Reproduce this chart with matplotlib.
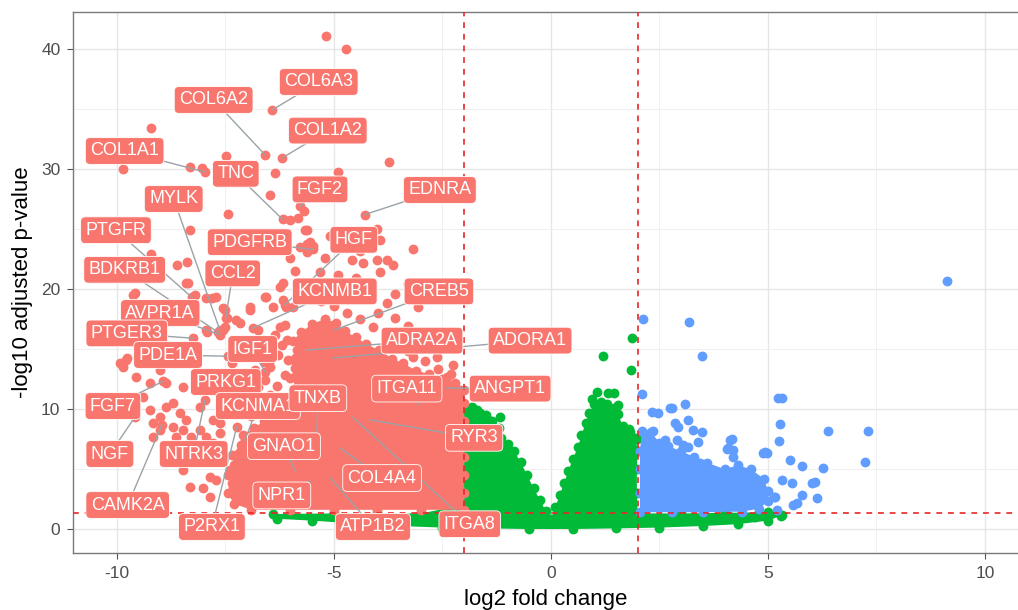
import numpy as np
import matplotlib
matplotlib.use("Agg")
import matplotlib.pyplot as plt

plt.rcParams['font.family'] = ['Liberation Sans', 'DejaVu Sans']
plt.rcParams['axes.unicode_minus'] = False

RED = "#F8766D"
GREEN = "#00BA38"
BLUE = "#619CFF"

fc_cut = 2.0
padj_cut = 1.3   # -log10(0.05)

# outline of the packed part of each cloud (log2FC, -log10 padj)
red_core = [(-2.0, 1.6), (-3.0, 1.6), (-4.0, 1.6), (-5.0, 1.6), (-6.0, 1.6), (-6.9, 1.6),
            (-7.3, 2.1), (-7.45, 3.0), (-7.35, 3.8), (-7.45, 4.5), (-7.3, 5.3), (-7.35, 6.2),
            (-7.15, 7.0), (-7.1, 7.8), (-6.85, 8.4), (-6.6, 9.0), (-6.3, 9.3), (-6.0, 9.6),
            (-5.85, 10.3), (-5.95, 11.0), (-5.85, 11.8), (-6.0, 12.6), (-5.9, 13.4), (-6.05, 14.1),
            (-5.85, 14.9), (-5.95, 15.7), (-5.75, 16.4), (-5.5, 17.1), (-5.2, 17.5), (-4.95, 17.2),
            (-4.75, 16.5), (-4.5, 16.0), (-4.25, 15.4), (-3.95, 14.9), (-3.65, 14.2), (-3.4, 13.8),
            (-3.1, 13.2), (-2.8, 12.9), (-2.5, 12.5), (-2.2, 12.2), (-2.0, 11.6), (-2.0, 10.5),
            (-2.0, 9.0), (-2.0, 7.5), (-2.0, 6.0), (-2.0, 4.5), (-2.0, 3.0)]
green_core = [(-6.4, 1.25), (-6.3, 0.85), (-5.5, 0.7), (-4.5, 0.45), (-3.5, 0.25), (-2.5, 0.12),
              (-1.5, 0.05), (-0.5, 0.0), (0.5, 0.0), (1.5, 0.05), (2.5, 0.12), (3.5, 0.25),
              (4.3, 0.4), (5.0, 0.7), (5.3, 1.1), (5.0, 1.4), (4.0, 1.35), (3.0, 1.3), (2.0, 1.3),
              (1.98, 3.0), (1.98, 5.0), (2.0, 6.5), (1.95, 7.6), (1.8, 8.3), (1.65, 8.6),
              (1.55, 9.6), (1.45, 10.1), (1.3, 10.4), (1.15, 10.6), (1.0, 10.4), (0.88, 9.7),
              (0.8, 8.8), (0.7, 7.8), (0.62, 6.8), (0.5, 5.8), (0.4, 4.8), (0.3, 3.8), (0.2, 2.8),
              (0.1, 1.8), (0.0, 0.8), (-0.12, 1.5), (-0.25, 2.4), (-0.4, 3.4), (-0.55, 4.5),
              (-0.7, 5.6), (-0.85, 6.5), (-1.0, 7.1), (-1.15, 7.6), (-1.2, 8.4), (-1.35, 9.0),
              (-1.5, 9.5), (-1.7, 9.9), (-1.85, 10.1), (-2.0, 10.0), (-2.0, 8.0), (-2.0, 6.0),
              (-2.0, 4.0), (-2.0, 2.0), (-3.0, 1.3), (-4.0, 1.3), (-5.0, 1.3)]
blue_core = [(2.05, 1.4), (2.05, 3.0), (2.05, 5.0), (2.05, 6.5), (2.1, 8.2), (2.3, 8.1),
             (2.5, 7.2), (2.7, 6.9), (3.0, 6.5), (3.3, 6.0), (3.6, 5.5), (4.0, 5.0), (4.3, 5.3),
             (4.6, 5.0), (4.9, 4.2), (5.0, 3.2), (5.0, 2.3), (4.8, 1.7), (4.4, 1.45), (3.5, 1.4),
             (2.8, 1.4)]

# individual genes outside the packed parts
red_pts = [(-5.18, 41.1), (-4.72, 40.0), (-9.22, 33.4), (-9.86, 30.0), (-7.49, 31.1), (-8.32, 30.2),
           (-8.04, 30.1), (-6.36, 29.7), (-6.47, 27.8), (-7.44, 26.25), (-3.73, 30.6), (-4.91, 29.75),
           (-6.01, 25.75), (-5.83, 25.9), (-5.69, 26.5), (-5.67, 24.9), (-3.18, 23.3), (-5.62, 23.75),
           (-5.48, 23.6), (-8.32, 24.9), (-9.22, 22.9), (-8.39, 22.25), (-8.62, 22.0), (-8.36, 20.5),
           (-8.2, 19.5), (-7.81, 19.25), (-9.63, 19.5), (-7.56, 18.4), (-6.94, 18.5), (-7.47, 17.6),
           (-7.93, 16.4), (-7.51, 16.8), (-6.59, 19.3), (-6.24, 20.2), (-6.41, 18.5), (-6.18, 19.1),
           (-5.94, 18.5), (-9.93, 13.8), (-9.77, 14.25), (-6.24, 16.8), (-6.08, 15.75), (-6.47, 13.5),
           (-7.17, 17.2), (-5.62, 24.9), (-5.55, 23.9), (-5.78, 23.5), (-5.62, 23.1), (-3.94, 24.1),
           (-4.59, 22.4), (-4.33, 22.2), (-4.01, 22.4), (-3.78, 22.4), (-3.64, 22.0), (-3.94, 21.4),
           (-5.32, 21.4), (-6.18, 20.5), (-3.78, 18.8), (-3.99, 18.0), (-3.59, 17.6), (-3.06, 18.5),
           (-2.26, 13.7), (-2.63, 14.3), (-3.18, 14.3), (-5.3, 19.0), (-5.0, 18.6), (-4.7, 18.0),
           (-4.4, 17.5), (-4.1, 16.8), (-3.8, 16.0), (-3.5, 15.2), (-3.3, 14.8), (-2.9, 14.0),
           (-2.6, 13.3), (-2.3, 12.9), (-4.2, 19.4), (-4.6, 19.6), (-5.6, 20.3), (-5.9, 21.5),
           (-6.0, 22.6), (-5.2, 22.6), (-4.9, 21.2), (-4.5, 20.9), (-3.6, 19.6), (-3.3, 16.9),
           (-2.8, 15.7), (-4.4, 23.2), (-5.1, 24.4), (-4.0, 25.0), (-3.3, 20.4), (-9.59, 19.7),
           (-8.41, 20.5), (-7.95, 19.25), (-7.72, 19.3), (-7.51, 18.25), (-7.56, 16.6), (-7.95, 16.6),
           (-7.26, 17.4), (-6.94, 18.25), (-6.57, 19.3), (-6.11, 18.5), (-9.79, 14.1), (-9.86, 13.5),
           (-9.56, 12.7), (-9.24, 12.2), (-9.01, 13.25), (-8.87, 12.2), (-8.48, 11.8), (-9.4, 11.0),
           (-9.24, 9.9), (-9.01, 9.3), (-9.17, 8.8), (-8.87, 10.2), (-8.71, 10.5), (-8.55, 9.7),
           (-8.41, 9.1), (-8.09, 10.2), (-7.79, 9.1), (-7.63, 8.8), (-8.09, 8.25), (-7.95, 7.7),
           (-7.79, 7.2), (-7.63, 8.0), (-9.01, 8.25), (-9.17, 7.7), (-8.71, 8.5), (-8.64, 7.7),
           (-8.48, 8.25), (-8.29, 7.7), (-8.48, 4.9), (-8.32, 3.5), (-8.02, 3.4), (-7.86, 4.3),
           (-7.72, 4.1), (-7.86, 2.7), (-7.56, 6.0), (-7.4, 4.9), (-7.33, 3.5), (-6.71, 6.3),
           (-6.8, 4.7), (-6.41, 4.9), (-7.17, 15.5), (-6.94, 14.5), (-6.82, 13.25), (-6.59, 12.4),
           (-6.47, 11.2), (-6.24, 10.6), (-7.17, 12.4), (-6.94, 11.2), (-6.71, 10.3), (-7.28, 10.75),
           (-7.05, 9.9), (-7.35, 13.8), (-6.66, 15.3), (-6.36, 16.2), (-6.13, 17.0), (-6.29, 14.5),
           (-6.13, 12.8), (-6.47, 14.1), (-6.75, 16.6), (-2.4, 12.7), (-2.1, 11.6),
           (-6.3, 11.9), (-6.55, 9.7), (-6.2, 15.3), (-6.6, 13.9), (-7.0, 12.9), (-6.9, 9.4),
           (-7.25, 11.8), (-6.35, 10.1), (-6.75, 11.8), (-7.2, 14.6)]
green_pts = [(1.87, 15.9), (1.2, 14.4), (1.84, 13.25), (1.32, 11.3), (1.45, 11.3), (0.95, 10.8),
             (1.55, 10.3), (1.6, 8.5), (1.82, 8.1), (1.98, 7.5), (-1.82, 10.2), (-1.63, 9.7),
             (-1.17, 9.3), (-1.4, 9.0), (1.05, 11.4), (4.7, 1.0), (4.8, 1.4), (5.32, 1.2)]
blue_pts = [(9.12, 20.7), (2.12, 17.5), (3.18, 17.25), (3.48, 14.4), (2.1, 11.25), (2.74, 10.1),
            (3.09, 10.4), (2.33, 9.75), (2.47, 9.7), (2.79, 10.1), (2.86, 8.8), (2.93, 8.5),
            (3.16, 9.1), (3.27, 8.25), (3.48, 8.1), (3.39, 7.25), (2.35, 8.2), (2.28, 7.4),
            (2.63, 7.4), (2.9, 7.4), (3.04, 7.0), (3.16, 6.8), (4.12, 7.4), (4.08, 6.75),
            (4.19, 6.6), (4.93, 6.4), (5.23, 10.9), (5.32, 10.9), (5.28, 8.75), (5.25, 7.3),
            (6.38, 8.2), (7.3, 8.2), (7.24, 5.6), (5.51, 5.75), (5.78, 5.25), (6.27, 5.1),
            (5.32, 4.1), (5.55, 3.8), (6.01, 3.8), (6.08, 3.9), (5.78, 2.8), (6.13, 2.6),
            (5.16, 2.7), (5.58, 2.0), (5.67, 2.2), (5.21, 1.6), (4.52, 3.5), (4.75, 3.8),
            (4.86, 3.25), (4.42, 2.7), (4.29, 4.7), (3.73, 4.9), (3.89, 4.1), (3.43, 5.5),
            (2.97, 5.75), (2.81, 5.2), (2.74, 4.3), (3.82, 3.25), (3.59, 2.7), (3.96, 2.4),
            (4.17, 7.5), (4.19, 6.0), (4.06, 6.7), (4.88, 6.3), (4.98, 6.3), (5.14, 2.7)]

# labelled genes: name, label position, gene position
genes = ["COL6A3", "COL6A2", "COL1A2", "COL1A1", "TNC", "FGF2", "EDNRA", "MYLK", "PTGFR",
         "PDGFRB", "HGF", "BDKRB1", "CCL2", "KCNMB1", "CREB5", "AVPR1A", "PTGER3", "ADRA2A",
         "ADORA1", "IGF1", "PDE1A", "PRKG1", "ITGA11", "ANGPT1", "FGF7", "KCNMA1", "TNXB",
         "RYR3", "NGF", "NTRK3", "GNAO1", "COL4A4", "NPR1", "CAMK2A", "P2RX1", "ATP1B2", "ITGA8"]
lab_x = [-5.35, -7.77, -5.14, -9.82, -7.26, -5.32, -2.56, -8.69, -10.02, -6.94, -4.54, -9.82,
         -7.33, -4.98, -2.58, -9.0, -9.77, -2.97, -0.48, -6.87, -8.82, -7.49, -3.32, -0.94,
         -10.09, -6.75, -5.37, -1.77, -10.16, -8.23, -6.15, -3.89, -6.2, -9.75, -7.81, -4.1, -1.87]
lab_y = [37.25, 35.75, 33.2, 31.5, 29.6, 28.3, 28.25, 27.5, 24.9, 23.9, 24.1, 21.6, 21.3, 19.8,
         19.8, 18.0, 16.3, 15.7, 15.7, 15.0, 14.5, 12.25, 11.7, 11.7, 10.25, 10.25, 10.9, 7.6,
         6.25, 6.25, 6.9, 4.25, 2.8, 2.0, 0.17, 0.17, 0.4]
gene_x = [-6.43, -6.59, -6.2, -7.97, -6.18, -5.78, -4.29, -7.63, -8.27, -5.48, -6.13, -7.67,
          -7.49, -6.87, -4.98, -7.63, -8.25, -5.65, -5.02, -6.59, -7.44, -6.75, -3.02, -2.4,
          -8.94, -7.05, -5.39, -4.17, -9.59, -7.97, -5.9, -4.86, -5.55, -8.96, -7.24, -5.09, -4.56]
gene_y = [34.9, 31.2, 30.9, 29.75, 25.8, 26.9, 26.2, 16.6, 19.3, 23.3, 18.7, 16.4, 17.6, 16.75,
          16.6, 16.2, 15.9, 14.9, 14.25, 13.1, 14.4, 10.9, 10.3, 11.75, 12.3, 7.4, 8.1, 9.1,
          9.3, 10.75, 4.9, 6.75, 4.0, 8.7, 8.5, 4.3, 9.3]

fig = plt.figure(figsize=(10.18, 6.10), dpi=100)
ax = fig.add_axes([0.0717, 0.0934, 0.9283, 0.8869])

def draw_group(core, pts, col):
    core = np.array(core)
    pts = np.array(pts)
    ax.fill(core[:, 0], core[:, 1], color=col, lw=0, zorder=2)
    ax.scatter(core[:, 0], core[:, 1], s=50, color=col, lw=0, zorder=2)
    ax.scatter(pts[:, 0], pts[:, 1], s=50, color=col, lw=0, zorder=2)

draw_group(green_core, green_pts, GREEN)
draw_group(blue_core, blue_pts, BLUE)
draw_group(red_core, red_pts, RED)
ax.scatter(gene_x, gene_y, s=50, color=RED, lw=0, zorder=2)

# threshold lines
for v in (-fc_cut, fc_cut):
    ax.axvline(v, color="#E8262A", lw=1.2, ls=(0, (3.5, 3.5)), zorder=4)
ax.axhline(padj_cut, color="#E8262A", lw=1.2, ls=(0, (3.5, 3.5)), zorder=4)

# repelled labels with connector segments
for g, lx, ly, gx, gy in zip(genes, lab_x, lab_y, gene_x, gene_y):
    ax.plot([lx, gx], [ly, gy], color="#9aa3a8", lw=1.0, zorder=5)
    ax.text(lx, ly, g, ha="center", va="center", fontsize=13, color="white", zorder=6,
            bbox=dict(boxstyle="round,pad=0.27,rounding_size=0.25", fc=RED, ec="white", lw=0.6))

ax.set_xlim(-11.01, 10.76)
ax.set_ylim(-2.0, 43.08)
ax.set_xticks([-10, -5, 0, 5, 10])
ax.set_yticks([0, 10, 20, 30, 40])
ax.set_xticks([-7.5, -2.5, 2.5, 7.5], minor=True)
ax.set_yticks([5, 15, 25, 35], minor=True)
ax.grid(True, which="major", color="#e6e6e6", lw=1.0, zorder=0)
ax.grid(True, which="minor", color="#eeeeee", lw=0.6, zorder=0)
ax.set_axisbelow(True)
ax.tick_params(which="major", length=4, pad=5, color="#555555", labelsize=12.5,
               labelcolor="#4d4d4d")
ax.tick_params(which="minor", length=0)
for side in ("left", "bottom", "top"):
    ax.spines[side].set_color("#7a7a7a")
    ax.spines[side].set_linewidth(1.0)
ax.spines["right"].set_visible(False)

ax.set_xlabel("log2 fold change", fontsize=16, labelpad=6)
ax.set_ylabel("-log10 adjusted p-value", fontsize=16, labelpad=6)

fig.savefig("out.png", dpi=100)
